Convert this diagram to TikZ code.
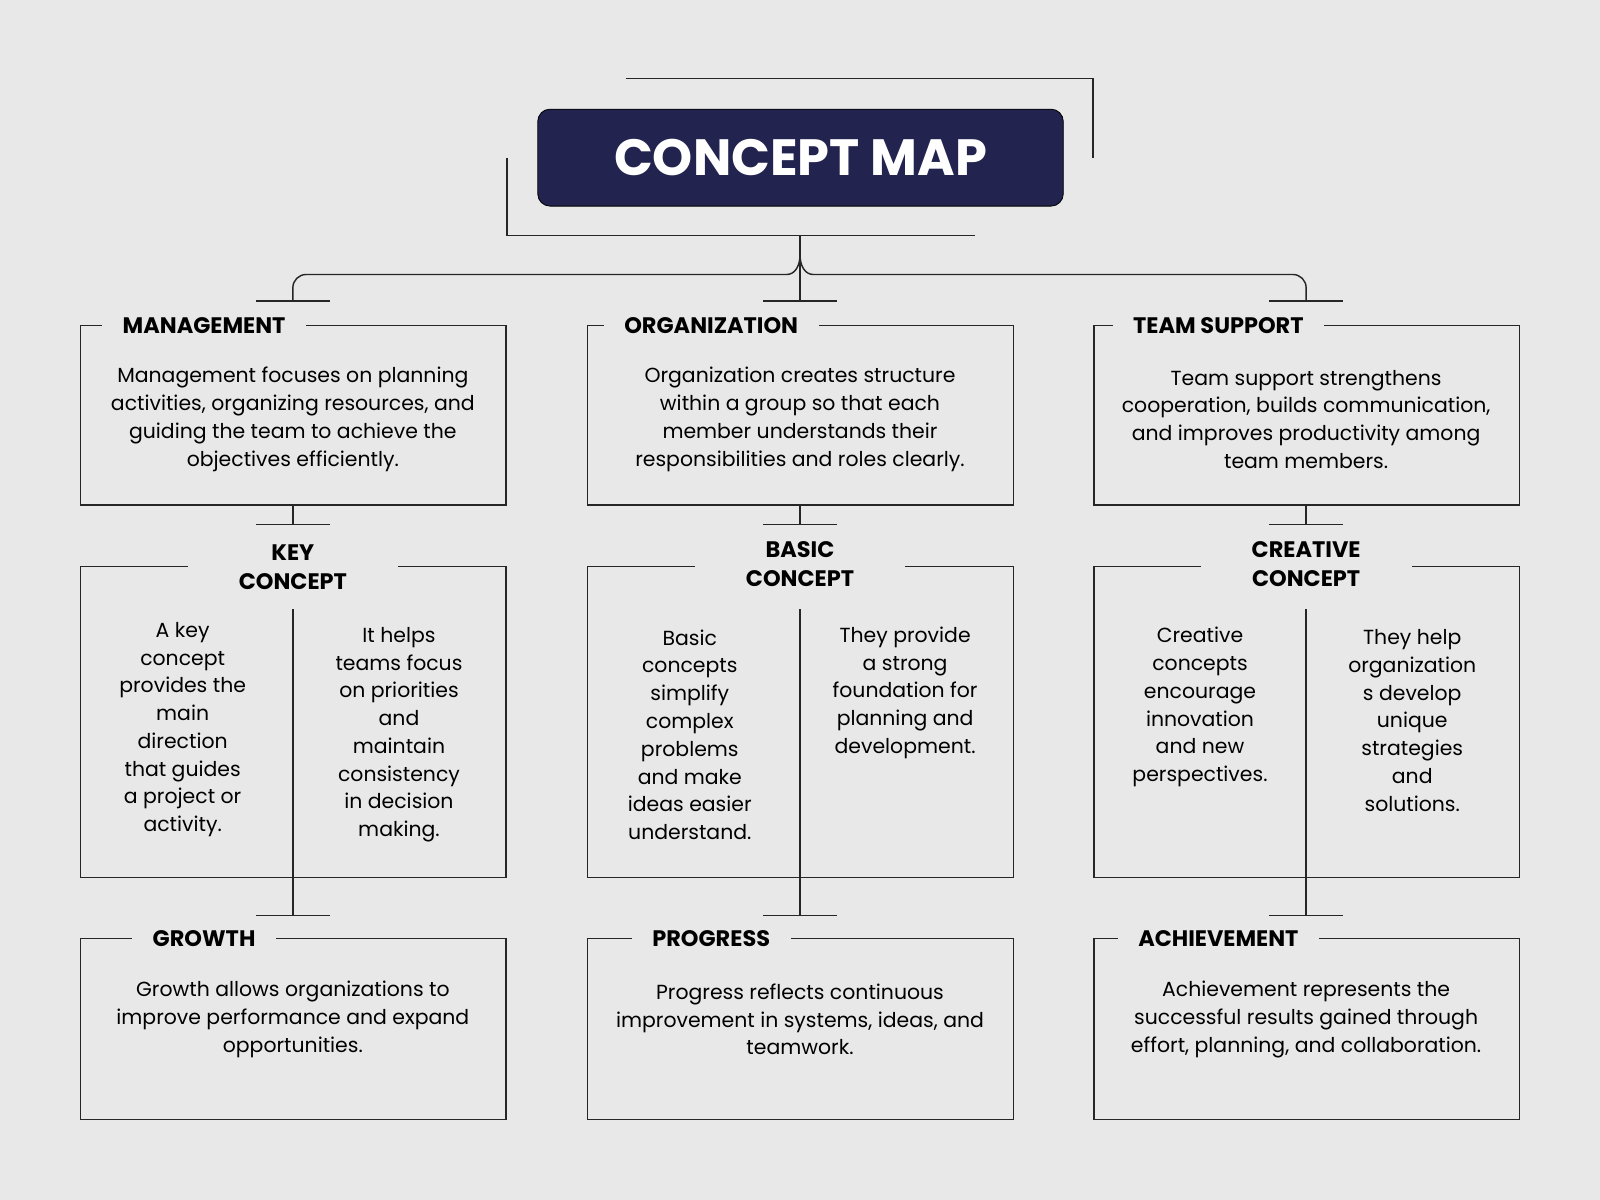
\documentclass[tikz,border=0pt]{standalone}
\usepackage{fontspec}
\setmainfont{Poppins}
\usetikzlibrary{positioning}
\definecolor{bg}{HTML}{E8E8E8}
\definecolor{navy}{HTML}{22234F}
\tikzset{
  box/.style={draw=black!85, line width=0.7pt},
  head/.style={fill=bg, inner xsep=10pt, font=\bfseries\fontsize{11}{14}\selectfont, align=center},
  body/.style={font=\fontsize{10}{13.6}\selectfont, align=center},
  wire/.style={draw=black!85, line width=0.7pt}
}
\begin{document}
\begin{tikzpicture}[x=0.5pt,y=-0.5pt]
  \fill[bg] (0,0) rectangle (1568,1176);
  \useasboundingbox (0,0) rectangle (1568,1176);
  % title
  \draw[wire] (613,77) -- (1071,77) -- (1071,155);
  \draw[wire] (497,155) -- (497,231) -- (955,231);
  \node[fill=navy, draw=black, rounded corners=6pt, minimum width=257.5pt, minimum height=47.5pt,
        text=white, font=\bfseries\fontsize{25}{30}\selectfont] (title) at (784.5,154.5) {CONCEPT MAP};
  % tree from title
  \coordinate (top) at (784,231);
  \coordinate (mid) at (784,295);
  \draw[wire] (top) -- (mid);
  \draw[wire] (784,250) to[out=-90,in=0] (771,269) -- (300,269) to[out=180,in=90] (287,282) -- (287,295);
  \draw[wire] (784,250) to[out=-90,in=180] (797,269) -- (1267,269) to[out=0,in=90] (1280,282) -- (1280,295);
  \foreach \cx in {287,784,1280}{
    \draw[wire] (\cx-36,295) -- (\cx+36,295);
    \draw[wire] (\cx,495) -- (\cx,514);
    \draw[wire] (\cx-36,514) -- (\cx+36,514);
    \draw[wire] (\cx,597) -- (\cx,897);
    \draw[wire] (\cx-36,897) -- (\cx+36,897);
  }
  \foreach \lx in {79,576,1072}{
    \draw[box] (\lx,319) rectangle +(417,176);
    \draw[box] (\lx,555) rectangle +(417,305);
    \draw[box] (\lx,920) rectangle +(417,177);
  }
  % row 1
  \node[head] (mgmt) at (200,319) {MANAGEMENT};
  \node[head] (org) at (697,319) {ORGANIZATION};
  \node[head] (team) at (1194,319) {TEAM SUPPORT};
  \node[body] (mgmtT) at (287,411) {Management focuses on planning\\activities, organizing resources, and\\guiding the team to achieve the\\objectives efficiently.};
  \node[body] (orgT) at (784,411) {Organization creates structure\\within a group so that each\\member understands their\\responsibilities and roles clearly.};
  \node[body] (teamT) at (1280,411) {Team support strengthens\\cooperation, builds communication,\\and improves productivity among\\team members.};
  % row 2
  \node[head, inner xsep=25pt] (key) at (287,556) {KEY\\CONCEPT};
  \node[head, inner xsep=25pt] (basic) at (784,553) {BASIC\\CONCEPT};
  \node[head, inner xsep=25pt] (creat) at (1280,553) {CREATIVE\\CONCEPT};
  \node[body] (keyA) at (179,715) {A key\\concept\\provides the\\main\\direction\\that guides\\a project or\\activity.};
  \node[body] (keyB) at (391,720) {It helps\\teams focus\\on priorities\\and\\maintain\\consistency\\in decision\\making.};
  \node[body] (basA) at (676,720) {Basic\\concepts\\simplify\\complex\\problems\\and make\\ideas easier\\understand.};
  \node[body] (basB) at (887,679) {They provide\\a strong\\foundation for\\planning and\\development.};
  \node[body] (creA) at (1176,693) {Creative\\concepts\\encourage\\innovation\\and new\\perspectives.};
  \node[body] (creB) at (1384,706) {They help\\organization\\s develop\\unique\\strategies\\and\\solutions.};
  % row 3
  \node[head] (grow) at (200,920) {GROWTH};
  \node[head] (prog) at (697,920) {PROGRESS};
  \node[head] (achv) at (1194,920) {ACHIEVEMENT};
  \node[body] (growT) at (287,999) {Growth allows organizations to\\improve performance and expand\\opportunities.};
  \node[body] (progT) at (784,999) {Progress reflects continuous\\improvement in systems, ideas, and\\teamwork.};
  \node[body] (achvT) at (1280,999) {Achievement represents the\\successful results gained through\\effort, planning, and collaboration.};
\end{tikzpicture}
\end{document}
